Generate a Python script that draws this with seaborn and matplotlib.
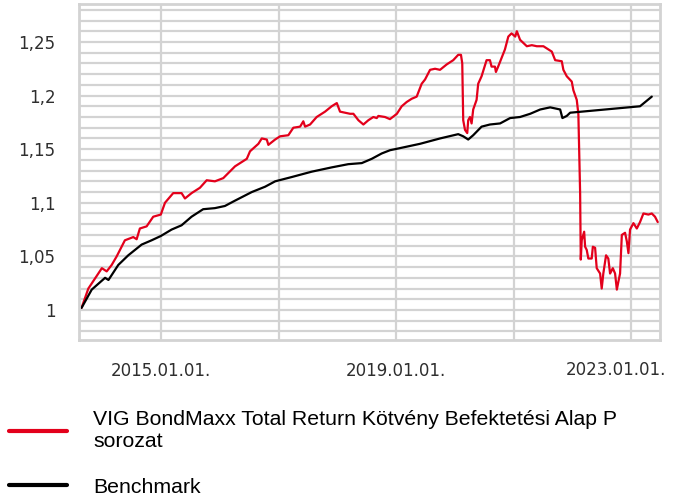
"""
VIG BondMaxx fund vs benchmark - cumulative performance chart.
"""

import matplotlib
matplotlib.use("Agg")
import matplotlib.pyplot as plt
from matplotlib.lines import Line2D
from matplotlib.ticker import MultipleLocator, FuncFormatter
import seaborn as sns
import pandas as pd

# Fund series
fund_dates = [
    "2013-08-27", "2013-10-08", "2013-12-31", "2014-01-30", "2014-03-02", "2014-04-02",
    "2014-05-23", "2014-07-14", "2014-08-04", "2014-08-24", "2014-10-05", "2014-11-15",
    "2015-01-01", "2015-01-27", "2015-03-19", "2015-05-10", "2015-05-31", "2015-07-11",
    "2015-09-01", "2015-10-13", "2015-12-03", "2016-01-24", "2016-04-06", "2016-06-18",
    "2016-07-08", "2016-08-29", "2016-09-19", "2016-10-20", "2016-10-30", "2016-12-11",
    "2017-01-11", "2017-03-03", "2017-04-03", "2017-05-15", "2017-06-04", "2017-06-15",
    "2017-07-16", "2017-08-26", "2017-10-17", "2017-11-27", "2017-12-29", "2018-01-18",
    "2018-03-21", "2018-04-11", "2018-05-12", "2018-06-12", "2018-07-13", "2018-08-13",
    "2018-09-03", "2018-09-13", "2018-10-24", "2018-11-24", "2019-01-06", "2019-02-05",
    "2019-03-08", "2019-04-08", "2019-05-09", "2019-06-09", "2019-06-30", "2019-07-31",
    "2019-08-31", "2019-10-01", "2019-11-11", "2019-12-22", "2020-01-22", "2020-02-08",
    "2020-02-16", "2020-02-22", "2020-03-04", "2020-03-18", "2020-03-24", "2020-04-04",
    "2020-04-14", "2020-04-24", "2020-05-15", "2020-05-25", "2020-06-15", "2020-07-16",
    "2020-08-06", "2020-08-16", "2020-09-06", "2020-09-12", "2020-09-26", "2020-11-07",
    "2020-11-28", "2020-12-18", "2021-01-10", "2021-01-20", "2021-02-09", "2021-03-02",
    "2021-03-23", "2021-04-23", "2021-05-24", "2021-07-04", "2021-08-25", "2021-09-15",
    "2021-10-26", "2021-11-05", "2021-11-26", "2021-12-27", "2022-01-06", "2022-01-27",
    "2022-02-06", "2022-02-17", "2022-02-21", "2022-02-27", "2022-03-14", "2022-03-20",
    "2022-03-30", "2022-04-09", "2022-04-30", "2022-05-07", "2022-05-21", "2022-05-31",
    "2022-06-21", "2022-07-01", "2022-07-11", "2022-07-28", "2022-08-11", "2022-08-22",
    "2022-09-08", "2022-09-22", "2022-10-03", "2022-10-12", "2022-10-23", "2022-11-03",
    "2022-11-23", "2022-12-04", "2022-12-14", "2022-12-24", "2023-01-14", "2023-02-04",
    "2023-02-24", "2023-03-17", "2023-04-17", "2023-05-08", "2023-05-28", "2023-06-14",
]
fund_values = [
    1.002, 1.020, 1.039, 1.036, 1.042, 1.050,
    1.065, 1.068, 1.066, 1.076, 1.078, 1.087,
    1.089, 1.100, 1.109, 1.109, 1.104, 1.109,
    1.114, 1.121, 1.120, 1.123, 1.134, 1.141,
    1.148, 1.155, 1.160, 1.159, 1.154, 1.159,
    1.162, 1.163, 1.170, 1.171, 1.176, 1.171,
    1.173, 1.180, 1.185, 1.190, 1.193, 1.185,
    1.183, 1.183, 1.177, 1.173, 1.177, 1.180,
    1.179, 1.181, 1.180, 1.178, 1.183, 1.190,
    1.194, 1.197, 1.199, 1.211, 1.215, 1.224,
    1.225, 1.224, 1.229, 1.233, 1.238, 1.238,
    1.230, 1.177, 1.168, 1.165, 1.177, 1.180,
    1.174, 1.187, 1.196, 1.211, 1.218, 1.233,
    1.233, 1.227, 1.227, 1.222, 1.227, 1.243,
    1.255, 1.258, 1.255, 1.260, 1.252, 1.249,
    1.246, 1.247, 1.246, 1.246, 1.241, 1.233,
    1.232, 1.224, 1.218, 1.213, 1.205, 1.196,
    1.183, 1.109, 1.047, 1.065, 1.073, 1.059,
    1.056, 1.048, 1.048, 1.059, 1.058, 1.039,
    1.034, 1.020, 1.034, 1.051, 1.048, 1.034,
    1.039, 1.034, 1.019, 1.026, 1.034, 1.070,
    1.072, 1.064, 1.053, 1.075, 1.081, 1.076,
    1.082, 1.090, 1.089, 1.090, 1.087, 1.082,
]

# Benchmark series
bench_dates = [
    "2013-08-27", "2013-10-29", "2014-01-20", "2014-02-10", "2014-04-12", "2014-06-13",
    "2014-09-04", "2014-11-05", "2015-01-01", "2015-03-09", "2015-05-10", "2015-07-11",
    "2015-09-21", "2015-12-03", "2016-02-03", "2016-04-06", "2016-07-19", "2016-10-10",
    "2016-12-11", "2017-03-24", "2017-07-26", "2017-11-27", "2018-03-10", "2018-06-02",
    "2018-08-03", "2018-10-04", "2018-11-24", "2019-01-26", "2019-05-30", "2019-10-01",
    "2020-01-22", "2020-02-22", "2020-03-24", "2020-04-24", "2020-06-15", "2020-08-06",
    "2020-10-08", "2020-12-09", "2021-02-09", "2021-04-13", "2021-06-14", "2021-08-15",
    "2021-10-16", "2021-10-30", "2021-11-26", "2021-12-17", "2023-02-24", "2023-05-08",
]
bench_values = [
    1.002, 1.019, 1.030, 1.028, 1.042, 1.051,
    1.061, 1.065, 1.069, 1.075, 1.079, 1.087,
    1.094, 1.095, 1.097, 1.102, 1.110, 1.115,
    1.120, 1.124, 1.129, 1.133, 1.136, 1.137,
    1.141, 1.146, 1.149, 1.151, 1.155, 1.160,
    1.164, 1.162, 1.159, 1.163, 1.171, 1.173,
    1.174, 1.179, 1.180, 1.183, 1.187, 1.189,
    1.187, 1.179, 1.181, 1.184, 1.190, 1.199,
]

fund_label = "VIG BondMaxx Total Return Kötvény Befektetési Alap P\nsorozat"
bench_label = "Benchmark"

grid_years = [2015, 2017, 2019, 2021, 2023]
labelled_years = [2015, 2019]
last_label_year = 2023

RED = "#e3001b"
GRID = "#d3d3d3"
TEXT = "#2e2e2e"

sns.set_style("white")
plt.rcParams['font.family'] = ['DejaVu Sans']

fig = plt.figure(figsize=(6.75, 4.97), dpi=100)
ax = fig.add_axes([79 / 675, 1 - 340 / 497, 581 / 675, 336 / 497])

fund = pd.DataFrame({"date": pd.to_datetime(fund_dates), "value": fund_values})
bench = pd.DataFrame({"date": pd.to_datetime(bench_dates), "value": bench_values})

sns.lineplot(data=fund, x="date", y="value", color=RED, lw=1.6, ax=ax, legend=False)
sns.lineplot(data=bench, x="date", y="value", color="black", lw=1.6, ax=ax, legend=False)

ax.set_xlim(pd.Timestamp("2013-08-11"), pd.Timestamp("2023-06-28"))
ax.set_ylim(0.972, 1.2854)

# y axis: majors every 0.05, grid every 0.01, comma decimals
ax.yaxis.set_major_locator(MultipleLocator(0.05))
ax.yaxis.set_minor_locator(MultipleLocator(0.01))
ax.yaxis.set_major_formatter(FuncFormatter(lambda v, p: f"{round(v, 2):g}".replace(".", ",")))

ticks = [pd.Timestamp(f"{y}-01-01") for y in grid_years]
ax.set_xticks(ticks)
ax.set_xticklabels([f"{y}.01.01." if y in labelled_years else "" for y in grid_years])

# the last date label is pulled left so it stays inside the figure
ax.annotate(f"{last_label_year}.01.01.", xy=(pd.Timestamp(f"{last_label_year}-01-01"), 0),
            xycoords=("data", "axes fraction"), xytext=(-11, -21.5),
            textcoords="offset points", ha="center", va="center",
            fontsize=12, color=TEXT, annotation_clip=False)

ax.grid(which="both", axis="y", color=GRID, lw=1.6)
ax.grid(which="major", axis="x", color=GRID, lw=1.6)
ax.set_axisbelow(True)

for spine in ax.spines.values():
    spine.set_color(GRID)
    spine.set_linewidth(2)

ax.tick_params(axis="y", which="major", length=8, width=1.6, color=GRID,
               pad=9, labelsize=12, labelcolor=TEXT)
ax.tick_params(axis="y", which="minor", length=2.5, width=1.6, color=GRID)
ax.tick_params(axis="x", which="major", length=9, width=1.6, color=GRID,
               pad=7, labelsize=12, labelcolor=TEXT)
ax.set_xlabel("")
ax.set_ylabel("")

handles = [Line2D([], [], color=RED, lw=3), Line2D([], [], color="black", lw=3)]
fig.legend(handles, [fund_label, bench_label], loc="upper left",
           bbox_to_anchor=(9 / 675, 1 - 410 / 497), frameon=False,
           prop={"family": "Liberation Sans", "size": 15.3},
           handlelength=2.75, handletextpad=1.22, labelspacing=1.25,
           borderpad=0, borderaxespad=0, labelcolor="black")

fig.savefig("out.png", dpi=100)
